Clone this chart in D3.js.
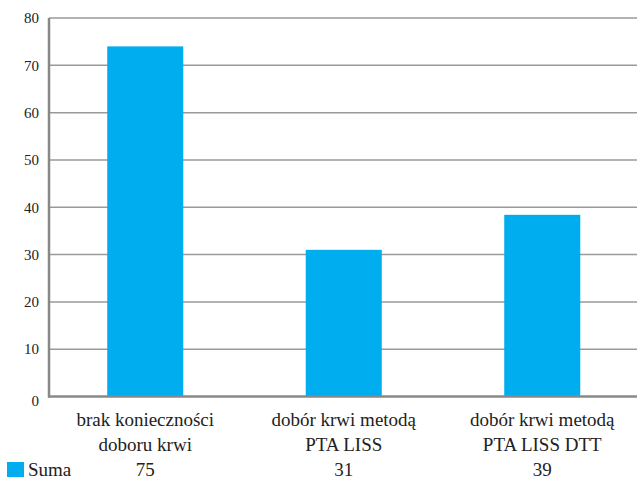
<!DOCTYPE html>
<html><head><meta charset="utf-8">
<script src="https://cdn.jsdelivr.net/npm/d3@7"></script>
<style>body{margin:0;background:#fff}</style>
</head><body>
<script>
const categories = [["brak konieczności","doboru krwi"],["dobór krwi metodą","PTA LISS"],["dobór krwi metodą","PTA LISS DTT"]];
const barValues = [74, 31, 38.4];
const tableValues = ["75","31","39"];
const seriesName = "Suma";
const yTicks = [0,10,20,30,40,50,60,70,80];

const W=637,H=481;
const svg=d3.select("body").append("svg").attr("width",W).attr("height",H);
const x=d3.scaleBand().domain(d3.range(categories.length)).range([46,641.5]).paddingInner(0.617).paddingOuter(0.3085);
const y=d3.scaleLinear().domain([0,80]).range([396.5,18]);
const col="#00adee";

svg.append("g").selectAll("line").data(yTicks.filter(d=>d>0)).join("line")
 .attr("x1",49).attr("x2",W).attr("y1",d=>y(d)).attr("y2",d=>y(d))
 .attr("stroke","#9a9a9a").attr("stroke-width",1.5);

svg.append("g").selectAll("rect").data(barValues).join("rect")
 .attr("x",(d,i)=>x(i)).attr("width",x.bandwidth())
 .attr("y",d=>y(d)).attr("height",d=>y(0)-y(d)).attr("fill",col);

svg.append("line").attr("x1",49).attr("x2",49).attr("y1",y(80)).attr("y2",y(0)+1)
 .attr("stroke","#888").attr("stroke-width",2.5);
svg.append("line").attr("x1",48).attr("x2",W).attr("y1",y(0)).attr("y2",y(0))
 .attr("stroke","#888").attr("stroke-width",2.5);

svg.append("g").selectAll("text").data(yTicks).join("text")
 .attr("x",39).attr("y",d=>y(d)+(d===0?4:0)).attr("dy","0.35em").attr("text-anchor","end")
 .style("font-family","Liberation Serif").style("font-size","15px").style("fill","#222").text(d=>d);

const cl=svg.append("g").selectAll("text").data(categories).join("text")
 .attr("text-anchor","middle").style("font-family","Liberation Serif").style("font-size","19px").style("fill","#222");
cl.each(function(d,i){
  const t=d3.select(this);
  d.forEach((s,j)=>t.append("tspan").attr("x",x(i)+x.bandwidth()/2).attr("y",426+j*25).text(s));
});

svg.append("rect").attr("x",7).attr("y",462).attr("width",17).attr("height",15).attr("fill",col);
svg.append("text").attr("x",28).attr("y",476).style("font-family","Liberation Serif").style("font-size","19px").style("fill","#222").text(seriesName);
svg.append("g").selectAll("text").data(tableValues).join("text")
 .attr("x",(d,i)=>x(i)+x.bandwidth()/2).attr("y",476).attr("text-anchor","middle")
 .style("font-family","Liberation Serif").style("font-size","19px").style("fill","#222").text(d=>d);
</script>
</body></html>
